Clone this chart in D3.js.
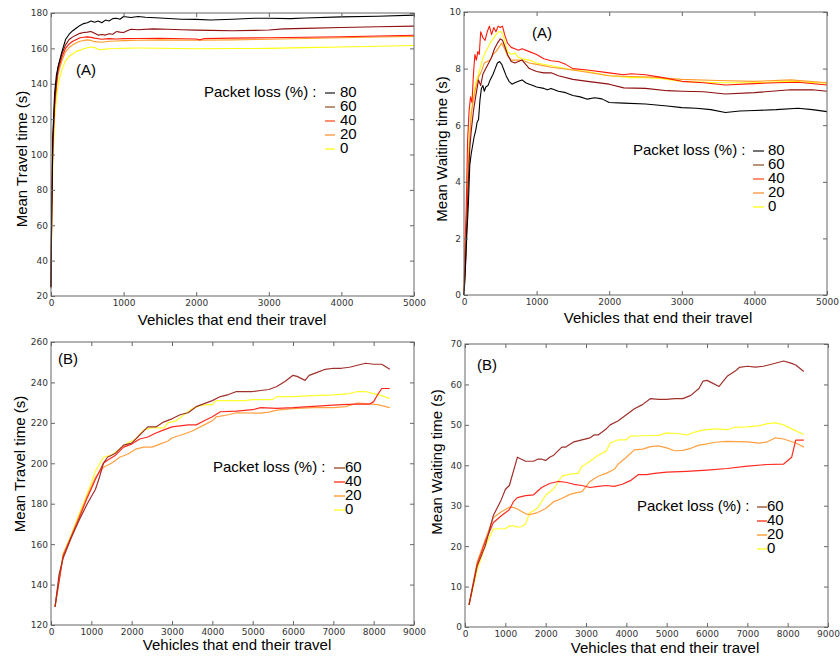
<!DOCTYPE html>
<html><head><meta charset="utf-8">
<script src="https://cdn.jsdelivr.net/npm/d3@7"></script>
<style>body{margin:0;background:#fff}svg{display:block}</style>
</head><body><svg id="c" width="840" height="657"></svg>
<script>
// ---------- labels ----------
const lossLabelsA = ["80","60","40","20","0"];
const lossLabelsB = ["60","40","20","0"];
const colorsA = ["#000000","#8e1010","#ff1a0a","#ff9a2a","#ffff10"];
const colorsB = ["#a0302a","#ff2a20","#ffa040","#ffff30"];
const legendColorsA = ["#444444","#a07050","#ff6a40","#ffa050","#ffff30"];
const legendColorsB = ["#a06040","#ff4a30","#ffa040","#ffff40"];
const xTicksA = [0,1000,2000,3000,4000,5000];
const xTicksB = [0,1000,2000,3000,4000,5000,6000,7000,8000,9000];
const yTicksTravelA = [20,40,60,80,100,120,140,160,180];
const yTicksWaitA = [0,2,4,6,8,10];
const yTicksTravelB = [120,140,160,180,200,220,240,260];
const yTicksWaitB = [0,10,20,30,40,50,60,70];

// ---------- (A) Mean travel time ----------
const travelA80 = [[0,25],[10,70],[25,110],[50,135],[75,145],[100,150],[150,158],[200,165],[250,168],[300,170],[350,171.5],[400,173],[450,174],[500,174.5],[550,175.5],[600,174.8],[650,175.5],[700,174.5],[750,176],[800,175.5],[850,176.8],[900,177],[950,176.5],[1000,178],[1100,177.5],[1200,178],[1300,177.6],[1500,177.2],[1800,176.5],[2000,176.4],[2200,176],[2500,176.5],[2800,177],[3000,177],[3300,176.8],[3500,177.2],[4000,177.8],[4500,178.2],[5000,178.8]];
const travelA60 = [[0,25],[10,70],[25,108],[50,130],[75,142],[100,150],[150,157],[200,162],[250,165],[300,166.5],[350,167.5],[400,168.5],[450,169],[500,169.2],[550,169.5],[600,168.5],[650,167.5],[700,167.8],[750,167.5],[800,168.3],[850,168],[900,169.5],[950,169.2],[1000,169],[1050,170],[1100,170.8],[1200,170.5],[1400,171],[1600,170.8],[1800,170.5],[2000,170.3],[2200,170.2],[2500,170],[2800,170.2],[3000,170.4],[3200,171],[3500,171.3],[4000,171.8],[4500,172.2],[5000,172.6]];
const travelA40 = [[0,25],[10,68],[25,105],[50,128],[75,140],[100,148],[150,155],[200,160],[250,162.5],[300,164],[350,165],[400,166],[450,166.3],[500,166.5],[550,166.2],[600,165.8],[700,165.2],[800,165.5],[900,165.3],[1000,165.5],[1200,165.6],[1500,165.7],[2000,165.3],[2050,164.8],[2100,165.5],[2500,165.8],[3000,166],[3500,166.3],[4000,166.6],[4500,167],[5000,167.4]];
const travelA20 = [[0,25],[10,66],[25,103],[50,126],[75,138],[100,146],[150,153],[200,158],[250,160.5],[300,162],[350,163.2],[400,164],[450,164.5],[500,164.8],[550,164.5],[600,163.8],[700,163.5],[800,164],[900,164.2],[1000,164.4],[1200,164.6],[1500,164.8],[2000,164.6],[2500,164.8],[3000,165.2],[3500,165.6],[4000,166],[4500,166.4],[5000,166.8]];
const travelA0 = [[0,25],[10,60],[25,95],[50,120],[75,132],[100,140],[150,148],[200,153],[250,155.5],[300,157],[350,158.3],[400,159],[450,159.8],[500,160.4],[550,160.8],[600,160.5],[650,159.5],[700,159.2],[750,159.6],[800,159.8],[900,159.9],[1000,160.1],[1200,160.2],[1500,160.1],[2000,159.8],[2500,159.9],[3000,160],[3500,160.4],[4000,160.8],[4500,161.2],[5000,161.6]];

// ---------- (A) Mean waiting time ----------
const waitA80 = [[0,0],[20,1],[40,2.2],[60,3.2],[80,4.6],[100,5.0],[120,5.3],[140,5.6],[160,5.8],[180,6.1],[200,6.2],[220,6.9],[240,7.3],[260,7.4],[280,7.2],[300,7.35],[330,7.4],[360,7.6],[400,7.8],[430,8.0],[460,8.2],[490,8.25],[520,8.15],[550,7.95],[580,7.75],[620,7.55],[660,7.45],[700,7.5],[750,7.55],[800,7.6],[850,7.5],[900,7.45],[950,7.4],[1000,7.35],[1100,7.3],[1150,7.25],[1200,7.3],[1300,7.2],[1400,7.15],[1500,7.05],[1600,7.0],[1700,6.92],[1800,6.97],[1900,6.93],[2000,6.8],[2200,6.78],[2500,6.75],[2800,6.68],[3000,6.62],[3200,6.6],[3400,6.55],[3600,6.45],[3800,6.5],[4000,6.52],[4300,6.55],[4600,6.6],[4800,6.55],[5000,6.48]];
const waitA60 = [[0,0],[20,1.0],[40,2.6],[60,4.0],[80,5.2],[100,5.8],[130,6.5],[160,7.0],[200,7.6],[230,7.4],[260,7.8],[300,8.0],[340,8.2],[380,8.4],[420,8.7],[460,8.9],[500,9.05],[530,9.0],[560,8.8],[600,8.5],[650,8.25],[700,8.2],[750,8.25],[800,8.3],[850,8.15],[900,8.0],[1000,7.9],[1100,7.85],[1200,7.85],[1300,7.75],[1500,7.62],[1700,7.55],[2000,7.45],[2200,7.32],[2500,7.3],[2800,7.22],[3000,7.2],[3300,7.18],[3600,7.1],[4000,7.15],[4500,7.25],[4800,7.25],[5000,7.2]];
const waitA40 = [[0,0],[15,1.8],[30,3.0],[50,5.5],[70,6.5],[90,7.0],[110,6.8],[130,7.8],[150,8.5],[170,8.3],[190,8.6],[210,8.5],[230,9.3],[260,9.1],[290,9.0],[320,9.3],[350,9.5],[380,9.2],[410,9.45],[440,9.3],[470,9.5],[500,9.45],[530,9.5],[560,9.2],[600,8.9],[650,8.75],[700,8.7],[750,8.65],[800,8.7],[900,8.6],[1000,8.5],[1100,8.35],[1200,8.28],[1300,8.25],[1400,8.15],[1500,8.0],[1700,7.95],[2000,7.85],[2200,7.78],[2300,7.82],[2500,7.78],[2700,7.7],[3000,7.55],[3300,7.5],[3600,7.42],[4000,7.47],[4300,7.5],[4600,7.52],[5000,7.42]];
const waitA20 = [[0,0],[20,1.2],[40,2.8],[60,4.6],[80,5.6],[100,6.4],[130,6.9],[160,7.3],[200,7.7],[240,7.9],[280,8.2],[320,8.25],[360,8.3],[400,8.5],[440,8.6],[480,8.75],[520,8.9],[560,8.7],[600,8.45],[650,8.3],[700,8.3],[800,8.3],[900,8.2],[1000,8.15],[1200,8.05],[1500,7.95],[2000,7.75],[2300,7.72],[2600,7.7],[3000,7.62],[3500,7.58],[4000,7.55],[4500,7.6],[5000,7.5]];
const waitA0 = [[0,0],[20,1.5],[40,3.0],[60,4.8],[80,5.8],[100,6.5],[130,7.0],[160,7.5],[200,7.8],[240,8.2],[280,8.5],[320,8.7],[360,8.9],[400,9.05],[440,9.2],[480,9.3],[520,9.3],[560,9.0],[600,8.6],[650,8.5],[700,8.55],[750,8.4],[800,8.35],[900,8.3],[1000,8.2],[1200,8.1],[1500,7.95],[1700,7.9],[2000,7.75],[2300,7.68],[2500,7.68],[2700,7.65],[3000,7.55],[3500,7.5],[4000,7.5],[4500,7.55],[5000,7.48]];

// ---------- (B) Mean travel time ----------
const travelB60 = [[100,129],[200,145],[300,153],[500,163],[700,172],[900,180],[1100,187],[1200,193],[1300,200],[1400,203],[1600,205],[1800,209],[2000,210],[2200,214],[2400,218],[2600,218],[2800,220.5],[3000,222],[3200,224],[3400,225],[3600,228],[3800,229.5],[4000,231],[4200,233],[4400,234],[4600,235.5],[5000,235.5],[5200,236],[5400,236.5],[5600,238],[5800,240.5],[6000,243.5],[6100,243],[6300,241],[6400,243.5],[6600,245],[6800,246.5],[7000,247],[7200,247],[7400,247.5],[7600,248.5],[7800,249.5],[8000,249],[8200,249],[8400,246.5]];
const travelB40 = [[100,129],[300,154],[500,163.5],[700,173],[900,183],[1100,192],[1300,200],[1400,201.5],[1600,204],[1800,208],[2000,209.5],[2200,212],[2400,213],[2600,215],[2800,216.5],[3000,218],[3200,218.5],[3400,219],[3600,219],[3800,221],[4000,223],[4200,225.5],[4600,225.8],[5000,226.5],[5200,227.5],[5600,227.2],[6000,227.5],[6400,228],[6800,228.5],[7200,229],[7600,229.3],[7900,229.3],[8000,230.5],[8100,234],[8200,237],[8400,237]];
const travelB20 = [[100,129],[300,155],[500,164],[700,174],[900,184],[1100,193],[1300,198],[1500,200],[1700,203],[1900,204.5],[2100,207],[2300,208],[2500,208],[2700,209.5],[2900,211],[3000,212.5],[3300,214.5],[3500,216],[3800,219],[4000,221],[4100,223],[4400,224],[4600,225],[5200,224.8],[5400,225.3],[5600,226.3],[6000,227],[6500,227.5],[7000,227.5],[7300,228],[7600,229.8],[7800,229.5],[8100,229],[8400,227.5]];
const travelB0 = [[100,129],[300,155],[500,164.5],[700,175],[900,185],[1100,196],[1300,203],[1500,204],[1700,207],[1900,210],[2100,212],[2300,216.5],[2500,217.5],[2800,217.5],[2900,220],[3100,221],[3300,224],[3500,227],[3700,228.5],[3900,229],[4000,229],[4100,231],[4600,231],[4800,231],[5000,231.5],[5500,231.5],[5600,233],[6000,233],[6500,233.5],[7000,233.8],[7400,234.5],[7600,235.5],[7800,235.5],[8000,234.5],[8200,233.5],[8400,232]];

// ---------- (B) Mean waiting time ----------
const waitB60 = [[100,5.5],[300,15],[500,20],[700,27.5],[900,31.5],[1000,34],[1100,35],[1300,42],[1500,41],[1700,41],[1800,41.5],[1900,41.5],[2000,41.2],[2100,42],[2200,42.5],[2400,44.5],[2500,44.5],[2700,45.8],[2900,46.3],[3100,46.8],[3200,47.5],[3300,47.5],[3500,49],[3600,50],[3800,51],[4000,52.5],[4200,54],[4400,55],[4600,56.5],[4800,56.3],[5000,56.3],[5200,56.5],[5400,56.5],[5600,57.3],[5800,59],[5900,60.8],[6000,61],[6100,60.5],[6300,59.5],[6500,62],[6700,63.3],[6800,64.2],[7000,64.5],[7200,64.3],[7400,64.5],[7600,65],[7900,65.8],[8100,65.2],[8200,64.8],[8400,63.2]];
const waitB40 = [[100,5.5],[300,15.5],[500,21],[700,25.8],[900,27.5],[1100,29],[1200,31],[1300,32],[1500,32.5],[1700,32.7],[1900,34.5],[2100,35.5],[2300,36],[2500,35.8],[2700,35.3],[2900,35],[3100,34.5],[3300,34.8],[3500,35],[3700,34.8],[3900,35.3],[4100,36.2],[4300,37.7],[4500,37.7],[4700,38],[5000,38.3],[5500,38.5],[6000,38.8],[6500,39.2],[7000,39.8],[7500,40.2],[7900,40.3],[8100,42],[8200,46.2],[8400,46.2]];
const waitB20 = [[100,5.5],[300,16],[500,21.5],[700,27],[900,28.5],[1100,29.6],[1200,29.6],[1300,29.2],[1500,28],[1600,27.8],[1800,28.3],[2000,29.3],[2200,31],[2400,31.8],[2600,32.8],[2800,33.3],[2900,33.5],[3100,36],[3300,37.3],[3500,38],[3700,39],[3800,40.3],[4000,42],[4200,43.8],[4400,44],[4600,44.6],[4800,44.8],[5000,44.3],[5200,43.6],[5400,43.7],[5600,44.2],[5800,45],[6000,45.3],[6200,45.7],[6500,45.9],[7000,45.8],[7300,45.5],[7500,45.8],[7700,46.8],[7900,46.5],[8200,45.5],[8400,44.5]];
const waitB0 = [[100,5.5],[300,14],[500,20],[700,24.2],[900,24.3],[1000,24.3],[1100,25],[1200,25],[1300,24.7],[1400,24.8],[1500,25.5],[1600,28.2],[1800,29.4],[2000,32.6],[2200,34.2],[2400,37.3],[2600,37.8],[2800,38],[2900,39.7],[3100,41],[3300,42.5],[3500,43.5],[3600,45.5],[3800,46.3],[4000,46.3],[4100,47.2],[4400,47.3],[4800,47.4],[5000,48],[5300,47.8],[5500,47.5],[5700,48.2],[5900,48.7],[6200,49],[6500,48.8],[6700,49.4],[7000,49.5],[7300,49.8],[7500,50.3],[7700,50.5],[7900,50],[8100,49],[8400,47.6]];

const svg = d3.select("#c");
svg.append("rect").attr("width",840).attr("height",657).attr("fill","#fff");

const TICKFONT = "'DejaVu Sans', sans-serif";
const LABFONT = "'Liberation Sans', Arial, sans-serif";

function panel(cfg){
  const x = d3.scaleLinear().domain(cfg.xDomain).range([cfg.left, cfg.right]);
  const y = d3.scaleLinear().domain(cfg.yDomain).range([cfg.bottom, cfg.top]);
  const g = svg.append("g");

  const line = d3.line().x(d=>x(d[0])).y(d=>y(d[1]));
  const order = cfg.series.map((s,i)=>i).reverse();
  order.forEach(i=>{
    g.append("path").datum(cfg.series[i]).attr("d",line)
      .attr("fill","none").attr("stroke",cfg.colors[i])
      .attr("stroke-width",cfg.lw).attr("stroke-linejoin","round");
  });

  g.append("rect").attr("x",cfg.left).attr("y",cfg.top)
    .attr("width",cfg.right-cfg.left).attr("height",cfg.bottom-cfg.top)
    .attr("fill","none").attr("stroke","#666").attr("stroke-width",1);

  const styleAxis = (sel, showText)=>{
    sel.select(".domain").remove();
    sel.selectAll(".tick line").attr("stroke","#666");
    sel.selectAll(".tick text").attr("fill","#333")
      .style("font-family",TICKFONT).style("font-size","9px");
    if(!showText) sel.selectAll(".tick text").remove();
  };
  g.append("g").attr("transform",`translate(0,${cfg.bottom})`)
    .call(d3.axisBottom(x).tickValues(cfg.xTicks).tickSizeInner(-4).tickSizeOuter(0).tickPadding(4).tickFormat(d3.format("d")))
    .call(s=>styleAxis(s,true));
  g.append("g").attr("transform",`translate(0,${cfg.top})`)
    .call(d3.axisTop(x).tickValues(cfg.xTicks).tickSizeInner(-4).tickSizeOuter(0))
    .call(s=>styleAxis(s,false));
  g.append("g").attr("transform",`translate(${cfg.left},0)`)
    .call(d3.axisLeft(y).tickValues(cfg.yTicks).tickSizeInner(-4).tickSizeOuter(0).tickPadding(3).tickFormat(d3.format("d")))
    .call(s=>styleAxis(s,true));
  g.append("g").attr("transform",`translate(${cfg.right},0)`)
    .call(d3.axisRight(y).tickValues(cfg.yTicks).tickSizeInner(-4).tickSizeOuter(0))
    .call(s=>styleAxis(s,false));

  g.append("text").attr("x",cfg.xlab[0]).attr("y",cfg.xlab[1])
    .attr("text-anchor","middle").style("font-family",LABFONT).style("font-size","15px")
    .text("Vehicles that end their travel");
  g.append("text").attr("transform",`translate(${cfg.ylab[0]},${cfg.ylab[1]}) rotate(-90)`)
    .attr("text-anchor","middle").style("font-family",LABFONT).style("font-size","15px")
    .text(cfg.ytitle);

  g.append("text").attr("x",cfg.tag[0]).attr("y",cfg.tag[1]).attr("text-anchor","middle")
    .attr("dy","0.35em").style("font-family",LABFONT).style("font-size","15px").text(cfg.tagText);

  const L = cfg.legend;
  g.append("text").attr("x",L.textX).attr("y",L.y0).attr("dy","0.35em")
    .style("font-family",LABFONT).style("font-size","15px").text("Packet loss (%) :");
  cfg.labels.forEach((lab,i)=>{
    const yy = L.y0 + i*L.dy;
    g.append("line").attr("x1",L.lineX[0]).attr("x2",L.lineX[1])
      .attr("y1",yy+1).attr("y2",yy+1).attr("stroke",cfg.legendColors[i]).attr("stroke-width",1.5);
    g.append("text").attr("x",L.numX).attr("y",yy).attr("dy","0.36em")
      .style("font-family",LABFONT).style("font-size","15px").text(lab);
  });
}

panel({left:51,right:414,top:13,bottom:296,xDomain:[0,5000],yDomain:[20,180],
  xTicks:xTicksA,yTicks:yTicksTravelA,series:[travelA80,travelA60,travelA40,travelA20,travelA0],
  colors:colorsA,legendColors:legendColorsA,labels:lossLabelsA,lw:1.1,ytitle:"Mean Travel time (s)",
  xlab:[232,325],ylab:[27,159],tag:[86,70],tagText:"(A)",
  legend:{textX:204,y0:92,dy:14,lineX:[325,335],numX:340}});

panel({left:464,right:827,top:12,bottom:295,xDomain:[0,5000],yDomain:[0,10],
  xTicks:xTicksA,yTicks:yTicksWaitA,series:[waitA80,waitA60,waitA40,waitA20,waitA0],
  colors:colorsA,legendColors:legendColorsA,labels:lossLabelsA,lw:1.1,ytitle:"Mean Waiting time (s)",
  xlab:[658,323],ylab:[447,149],tag:[542,33],tagText:"(A)",
  legend:{textX:633,y0:150,dy:14,lineX:[753,764],numX:768}});

panel({left:51,right:414,top:342,bottom:625,xDomain:[0,9000],yDomain:[120,260],
  xTicks:xTicksB,yTicks:yTicksTravelB,series:[travelB60,travelB40,travelB20,travelB0],
  colors:colorsB,legendColors:legendColorsB,labels:lossLabelsB,lw:1.2,ytitle:"Mean Travel time (s)",
  xlab:[237,650],ylab:[25,464],tag:[68,359],tagText:"(B)",
  legend:{textX:213,y0:467,dy:14,lineX:[334,345],numX:345}});

panel({left:465,right:828,top:344,bottom:627,xDomain:[0,9000],yDomain:[0,70],
  xTicks:xTicksB,yTicks:yTicksWaitB,series:[waitB60,waitB40,waitB20,waitB0],
  colors:colorsB,legendColors:legendColorsB,labels:lossLabelsB,lw:1.2,ytitle:"Mean Waiting time (s)",
  xlab:[665,653],ylab:[442,462],tag:[487,365],tagText:"(B)",
  legend:{textX:637,y0:506,dy:14,lineX:[757,767],numX:767}});
</script>
</body></html>
